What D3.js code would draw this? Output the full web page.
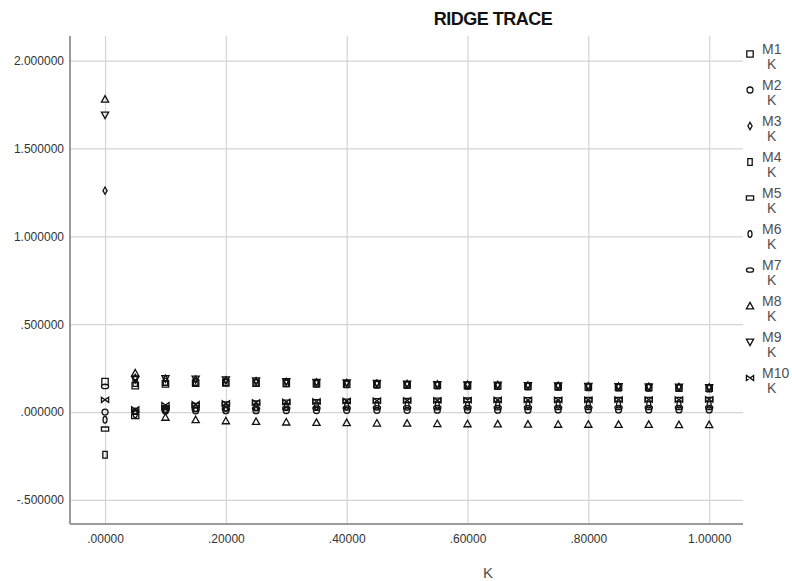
<!DOCTYPE html>
<html>
<head>
<meta charset="utf-8">
<script src="https://cdn.jsdelivr.net/npm/d3@7"></script>
<style>
  body { margin: 0; background: #fff; }
  svg text { font-family: "Liberation Sans", Arial, sans-serif; }
</style>
</head>
<body>
<script>
// ridge parameter values
var kValues = [0, 0.05, 0.10, 0.15, 0.20, 0.25, 0.30, 0.35, 0.40, 0.45, 0.50,
               0.55, 0.60, 0.65, 0.70, 0.75, 0.80, 0.85, 0.90, 0.95, 1.00];

// coefficients
var m1  = [0.174, 0.150, 0.160, 0.165, 0.166, 0.165, 0.163, 0.161, 0.159, 0.157, 0.155, 0.153, 0.151, 0.149, 0.147, 0.145, 0.143, 0.141, 0.140, 0.138, 0.136];
var m2  = [0.000, 0.005, 0.006, 0.007, 0.008, 0.008, 0.009, 0.009, 0.010, 0.010, 0.010, 0.011, 0.011, 0.011, 0.011, 0.012, 0.012, 0.012, 0.012, 0.012, 0.012];
var m3  = [1.260, 0.195, 0.190, 0.185, 0.180, 0.176, 0.172, 0.169, 0.166, 0.163, 0.160, 0.158, 0.156, 0.154, 0.152, 0.150, 0.148, 0.146, 0.144, 0.143, 0.141];
var m4  = [-0.243, 0.165, 0.172, 0.172, 0.170, 0.167, 0.164, 0.161, 0.158, 0.156, 0.154, 0.152, 0.150, 0.148, 0.146, 0.144, 0.142, 0.140, 0.139, 0.137, 0.135];
var m5  = [-0.097, -0.025, 0.025, 0.038, 0.046, 0.052, 0.056, 0.059, 0.062, 0.064, 0.066, 0.067, 0.068, 0.069, 0.070, 0.070, 0.071, 0.071, 0.071, 0.072, 0.072];
var m6  = [-0.044, -0.012, 0.012, 0.020, 0.025, 0.028, 0.031, 0.033, 0.035, 0.036, 0.037, 0.038, 0.039, 0.040, 0.040, 0.041, 0.041, 0.042, 0.042, 0.042, 0.042];
var m7  = [0.146, 0.000, 0.012, 0.016, 0.018, 0.020, 0.021, 0.022, 0.023, 0.024, 0.024, 0.025, 0.025, 0.025, 0.026, 0.026, 0.026, 0.026, 0.026, 0.026, 0.026];
var m8  = [1.780, 0.222, -0.030, -0.044, -0.050, -0.054, -0.057, -0.059, -0.061, -0.063, -0.064, -0.066, -0.067, -0.068, -0.069, -0.070, -0.070, -0.071, -0.071, -0.072, -0.072];
var m9  = [1.690, 0.185, 0.190, 0.188, 0.183, 0.178, 0.174, 0.170, 0.166, 0.163, 0.160, 0.157, 0.155, 0.153, 0.151, 0.149, 0.147, 0.145, 0.143, 0.142, 0.140];
var m10 = [0.070, 0.015, 0.040, 0.045, 0.050, 0.055, 0.058, 0.061, 0.063, 0.065, 0.066, 0.067, 0.068, 0.069, 0.069, 0.070, 0.070, 0.071, 0.071, 0.071, 0.072];

var seriesNames = ["M1", "M2", "M3", "M4", "M5", "M6", "M7", "M8", "M9", "M10"];
var seriesValues = [m1, m2, m3, m4, m5, m6, m7, m8, m9, m10];
var seriesShapes = ["square", "circle", "diamond", "tallRect", "wideRect",
                    "tallEllipse", "wideEllipse", "triUp", "triDown", "bowtie"];

var yTicks = [-0.5, 0, 0.5, 1.0, 1.5, 2.0];
var xTicks = [0, 0.2, 0.4, 0.6, 0.8, 1.0];

var width = 792, height = 581;
var plotLeft = 70, plotRight = 743, plotTop = 36, plotBottom = 524;

var svg = d3.select('body').append('svg').attr('width', width).attr('height', height);

var x = d3.scaleLinear().domain([-0.058, 1.056]).range([plotLeft, plotRight]);
var y = d3.scaleLinear().domain([-0.637, 2.14]).range([plotBottom, plotTop]);

// drop the leading zero like the original output does
function noLeadZero(s) {
  return s.replace(/^(-?)0\./, '$1.');
}

// grid lines
svg.append('g')
   .attr('transform', 'translate(' + plotLeft + ',0)')
   .call(d3.axisLeft(y).tickValues(yTicks).tickSize(-(plotRight - plotLeft)).tickFormat(''))
   .call(function(g) { g.select('.domain').remove(); })
   .selectAll('line').attr('stroke', '#d4d4d4').attr('stroke-width', 1.2);

svg.append('g')
   .attr('transform', 'translate(0,' + plotBottom + ')')
   .call(d3.axisBottom(x).tickValues(xTicks).tickSize(-(plotBottom - plotTop)).tickFormat(''))
   .call(function(g) { g.select('.domain').remove(); })
   .selectAll('line').attr('stroke', '#d4d4d4').attr('stroke-width', 1.2);

// axes with labels
var yAxis = svg.append('g')
   .attr('transform', 'translate(' + plotLeft + ',0)')
   .call(d3.axisLeft(y).tickValues(yTicks).tickSize(0).tickPadding(6)
          .tickFormat(function(d) { return noLeadZero(d.toFixed(6)); }));
yAxis.select('.domain').attr('stroke', '#9a9a9a').attr('stroke-width', 2)
     .attr('d', 'M0,' + plotTop + 'V' + plotBottom);
yAxis.selectAll('text').attr('font-size', 12).attr('fill', '#333').style('font-family', '"Liberation Sans", Arial, sans-serif');

var xAxis = svg.append('g')
   .attr('transform', 'translate(0,' + plotBottom + ')')
   .call(d3.axisBottom(x).tickValues(xTicks).tickSize(0).tickPadding(10)
          .tickFormat(function(d) { return noLeadZero(d.toFixed(5)); }));
xAxis.select('.domain').attr('stroke', '#9a9a9a').attr('stroke-width', 2)
     .attr('d', 'M' + plotLeft + ',0H' + plotRight);
xAxis.selectAll('text').attr('font-size', 12).attr('fill', '#333').style('font-family', '"Liberation Sans", Arial, sans-serif');

// title and axis title
svg.append('text')
   .attr('x', 493).attr('y', 25)
   .attr('text-anchor', 'middle')
   .attr('font-size', 18).attr('font-weight', 'bold')
   .attr('letter-spacing', -0.5)
   .attr('fill', '#111')
   .text('RIDGE TRACE');

svg.append('text')
   .attr('x', 488).attr('y', 578)
   .attr('text-anchor', 'middle')
   .attr('font-size', 15).attr('fill', '#505050')
   .text('K');

// marker outlines
function shapePath(type) {
  switch (type) {
    case 'square':      return 'M-3.2,-3.2H3.2V3.2H-3.2Z';
    case 'circle':      return 'M3,0A3,3 0 1,1 -3,0A3,3 0 1,1 3,0Z';
    case 'diamond':     return 'M0,-3.6L2.1,0L0,3.6L-2.1,0Z';
    case 'tallRect':    return 'M-2.2,-3.4H2.2V3.4H-2.2Z';
    case 'wideRect':    return 'M-3.6,-2.1H3.6V2.1H-3.6Z';
    case 'tallEllipse': return 'M2,0A2,3.4 0 1,1 -2,0A2,3.4 0 1,1 2,0Z';
    case 'wideEllipse': return 'M3.6,0A3.6,2.2 0 1,1 -3.6,0A3.6,2.2 0 1,1 3.6,0Z';
    case 'triUp':       return 'M0,-3.6L3.6,2.9H-3.6Z';
    case 'triDown':     return 'M0,3.6L3.6,-2.9H-3.6Z';
    case 'bowtie':      return 'M-3.6,-2.6L3.6,2.6V-2.6L-3.6,2.6Z';
  }
}

// points for every series
seriesValues.forEach(function(vals, i) {
  svg.append('g').attr('class', 'series-' + seriesNames[i])
     .selectAll('path')
     .data(vals)
     .enter()
     .append('path')
     .attr('transform', function(d, j) { return 'translate(' + x(kValues[j]) + ',' + y(d) + ')'; })
     .attr('d', shapePath(seriesShapes[i]))
     .attr('fill', 'none')
     .attr('stroke', '#111')
     .attr('stroke-width', 1.3);
});

// legend down the right side
var legend = svg.append('g').selectAll('g')
   .data(seriesNames)
   .enter()
   .append('g')
   .attr('transform', function(d, i) { return 'translate(0,' + (i * 36) + ')'; });

legend.append('path')
   .attr('transform', 'translate(750,54)')
   .attr('d', function(d, i) { return shapePath(seriesShapes[i]); })
   .attr('fill', 'none').attr('stroke', '#111').attr('stroke-width', 1.3);

legend.append('text')
   .attr('x', 762).attr('y', 53.5)
   .attr('font-size', 14).attr('fill', '#505050')
   .text(function(d) { return d; });

legend.append('text')
   .attr('x', 767).attr('y', 69)
   .attr('font-size', 14).attr('fill', '#505050')
   .text('K');
</script>
</body>
</html>
